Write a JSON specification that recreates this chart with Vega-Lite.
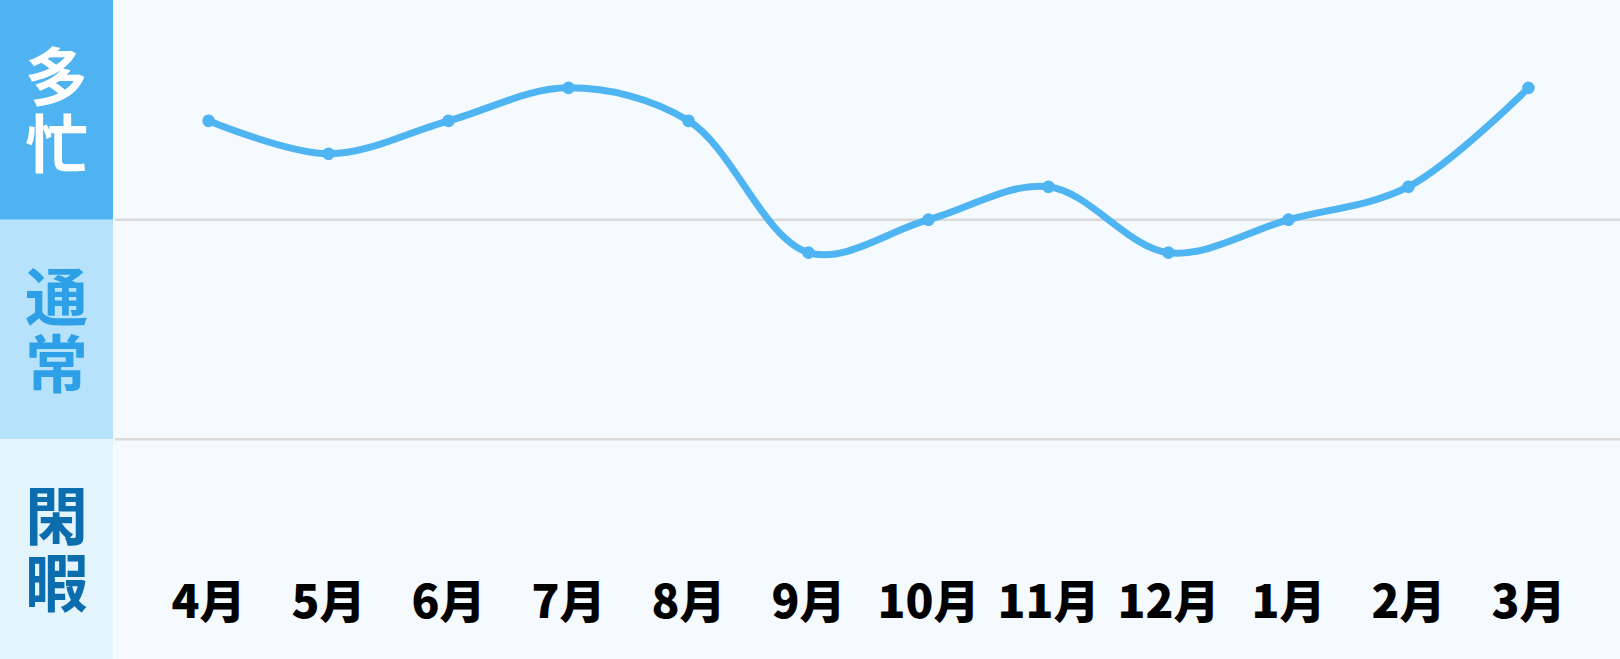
{
  "$schema": "https://vega.github.io/schema/vega-lite/v6.json",
  "padding": 0,
  "background": "#f5faff",
  "spacing": 0,
  "config": {"view": {"stroke": null}, "concat": {"spacing": 0}},
  "datasets": {
    "bands": [
      {"band": "多忙", "lo": 2, "hi": 3, "label": "多\n忙"},
      {"band": "通常", "lo": 1, "hi": 2, "label": "通\n常"},
      {"band": "閑暇", "lo": 0, "hi": 1, "label": "閑\n暇"}
    ],
    "months": [
      {"month": "4月", "level": 2.45},
      {"month": "5月", "level": 2.3},
      {"month": "6月", "level": 2.45},
      {"month": "7月", "level": 2.6},
      {"month": "8月", "level": 2.45},
      {"month": "9月", "level": 1.85},
      {"month": "10月", "level": 2.0},
      {"month": "11月", "level": 2.15},
      {"month": "12月", "level": 1.85},
      {"month": "1月", "level": 2.0},
      {"month": "2月", "level": 2.15},
      {"month": "3月", "level": 2.6}
    ]
  },
  "hconcat": [
    {
      "width": 113,
      "height": 659,
      "data": {"name": "bands"},
      "transform": [{"calculate": "(datum.lo + datum.hi) / 2", "as": "mid"}],
      "layer": [
        {
          "mark": {"type": "rect"},
          "encoding": {
            "y": {"field": "lo", "type": "quantitative", "scale": {"domain": [0, 3], "nice": false, "zero": false}, "axis": null},
            "y2": {"field": "hi"},
            "color": {"field": "band", "type": "nominal", "scale": {"domain": ["多忙", "通常", "閑暇"], "range": ["#4fb3f1", "#b7e2fb", "#e4f4fd"]}, "legend": null}
          }
        },
        {
          "mark": {"type": "text", "lineBreak": "\n", "fontSize": 63, "lineHeight": 67, "dy": -29, "font": "Noto Sans CJK JP", "fontWeight": "bold", "baseline": "middle", "align": "center"},
          "encoding": {
            "y": {"field": "mid", "type": "quantitative", "scale": {"domain": [0, 3], "nice": false, "zero": false}, "axis": null},
            "text": {"field": "label"},
            "color": {"field": "band", "type": "nominal", "scale": {"domain": ["多忙", "通常", "閑暇"], "range": ["#ffffff", "#2ea0e8", "#0b6cae"]}, "legend": null}
          }
        }
      ],
      "resolve": {"scale": {"color": "independent"}}
    },
    {
      "width": 1507,
      "height": 659,
      "layer": [
        {
          "data": {"name": "bands"},
          "transform": [{"filter": "datum.lo > 0"}],
          "mark": {"type": "rule", "color": "#d9d9d9", "strokeWidth": 2.5},
          "encoding": {
            "y": {"field": "lo", "type": "quantitative", "scale": {"domain": [0, 3], "nice": false, "zero": false}, "axis": null}
          }
        },
        {
          "data": {"name": "months"},
          "mark": {"type": "line", "interpolate": "catmull-rom", "color": "#4fb4f2", "strokeWidth": 7},
          "encoding": {
            "x": {"field": "month", "type": "ordinal", "sort": null, "scale": {"type": "point", "padding": 0.78}, "axis": null},
            "y": {"field": "level", "type": "quantitative", "scale": {"domain": [0, 3], "nice": false, "zero": false}, "axis": null}
          }
        },
        {
          "data": {"name": "months"},
          "mark": {"type": "point", "filled": true, "opacity": 1, "size": 160, "color": "#4fb4f2"},
          "encoding": {
            "x": {"field": "month", "type": "ordinal", "sort": null, "scale": {"type": "point", "padding": 0.78}, "axis": null},
            "y": {"field": "level", "type": "quantitative", "scale": {"domain": [0, 3], "nice": false, "zero": false}, "axis": null}
          }
        },
        {
          "data": {"name": "months"},
          "mark": {"type": "text", "fontSize": 46, "font": "Noto Sans CJK JP", "fontWeight": 900, "color": "#000000", "baseline": "middle", "align": "center"},
          "encoding": {
            "x": {"field": "month", "type": "ordinal", "sort": null, "scale": {"type": "point", "padding": 0.78}, "axis": null},
            "y": {"datum": 0.25, "type": "quantitative", "scale": {"domain": [0, 3], "nice": false, "zero": false}, "axis": null},
            "text": {"field": "month"}
          }
        }
      ]
    }
  ]
}
